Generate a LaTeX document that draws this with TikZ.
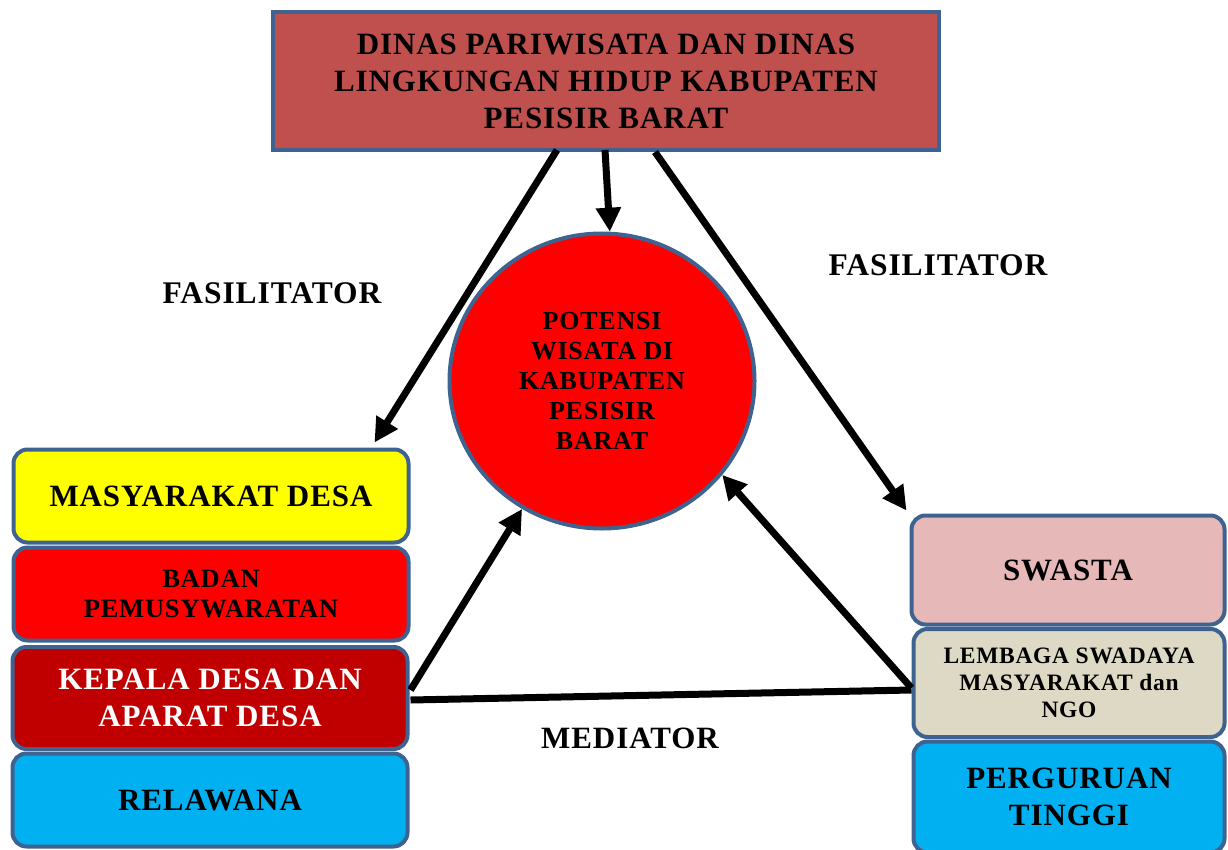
\documentclass[tikz,border=0pt]{standalone}
\usepackage{fontspec}
\setmainfont{Liberation Serif}[LetterSpace=3]
\usetikzlibrary{arrows.meta,calc,shapes.geometric}
\definecolor{bord}{HTML}{3F6390}
\definecolor{topfill}{HTML}{C0504D}
\definecolor{yel}{HTML}{FFFF00}
\definecolor{redf}{HTML}{FF0000}
\definecolor{dred}{HTML}{C00000}
\definecolor{cyanf}{HTML}{00B0F0}
\definecolor{pinkf}{HTML}{E6B9B8}
\definecolor{beigef}{HTML}{DDD9C4}
\begin{document}
\begin{tikzpicture}[x=1pt,y=-1pt,
  box/.style={draw=bord,line width=4pt,rounded corners=14pt,align=center,inner sep=0pt},
  big/.style={font=\fontsize{31}{37}\selectfont\bfseries},
  mid/.style={font=\fontsize{26.5}{30}\selectfont\bfseries},
  sml/.style={font=\fontsize{23.5}{27}\selectfont\bfseries},
  lbl/.style={font=\fontsize{31.5}{36}\selectfont\bfseries},
  arr/.style={line width=7pt,-{Triangle[length=24pt,width=24pt]}},
  conn/.style={line width=7pt}]
\useasboundingbox (0,0) rectangle (1228,850);

\node[box,rounded corners=0pt,fill=topfill,minimum width=666pt,minimum height=138pt,big] (top) at (606,81)
  {DINAS PARIWISATA DAN DINAS\\LINGKUNGAN HIDUP KABUPATEN\\PESISIR BARAT};

\node[ellipse,draw=bord,line width=4pt,fill=redf,minimum width=305pt,minimum height=295pt,inner sep=0pt,align=center,
  font=\fontsize{26}{30}\selectfont\bfseries] (pot) at (602,381)
  {POTENSI\\WISATA DI\\KABUPATEN\\PESISIR\\BARAT};

\node[box,fill=yel,minimum width=395pt,minimum height=93pt,big] (mas) at (211,496) {MASYARAKAT DESA};
\node[box,fill=redf,minimum width=395pt,minimum height=93pt,mid] (bad) at (211,594) {BADAN\\PEMUSYWARATAN};
\node[box,fill=dred,text=white,minimum width=395pt,minimum height=102pt,big] (kep) at (210,698) {KEPALA DESA DAN\\APARAT DESA};
\node[box,fill=cyanf,minimum width=395pt,minimum height=93pt,big] (rel) at (210,800) {RELAWANA};

\node[box,fill=pinkf,minimum width=313pt,minimum height=109pt,big] (swa) at (1068,570) {SWASTA};
\node[box,fill=beigef,minimum width=311pt,minimum height=108pt,sml] (lem) at (1069,683) {LEMBAGA SWADAYA\\MASYARAKAT dan\\NGO};
\node[box,fill=cyanf,minimum width=311pt,minimum height=111pt,big] (per) at (1069,797) {PERGURUAN\\TINGGI};

\node[lbl] (f1) at (272,293) {FASILITATOR};
\node[lbl] (f2) at (938,265) {FASILITATOR};
\node[font=\fontsize{31}{36}\selectfont\bfseries] (med) at (630,738) {MEDIATOR};

\draw[arr] ($(top.south)+(-49,-2)$) -- ($(mas.north east)+(-36,-5)$);
\draw[arr] ($(top.south)+(-1,-2)$) -- (pot.87);
\draw[arr] ($(top.south)+(49,0)$) -- ($(swa.north west)+(-3,-3)$);
\draw[arr] ($(kep.east)+(1,-8)$) -- (pot.238);
\draw[arr] ($(lem.west)+(0,5)$) -- (pot.-38);
\draw[conn] ($(kep.east)+(1,2)$) -- ($(lem.west)+(0,7)$);
\end{tikzpicture}
\end{document}
